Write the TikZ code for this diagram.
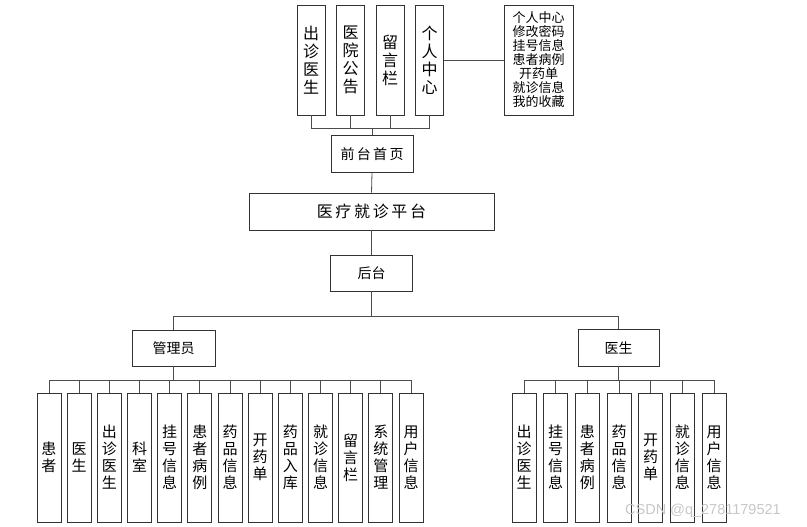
\documentclass[tikz,border=0pt]{standalone}
\usepackage{fontspec}
\newfontfamily\cjk{Noto Sans CJK SC}
\newfontfamily\wmfont{Liberation Sans}

\begin{document}
\begin{tikzpicture}[x=1pt, y=-1pt, every node/.style={font=\cjk\fontsize{14}{16}\selectfont},
	box/.style={draw=black!80, line width=0.8pt, inner sep=0pt, align=center},
	tbox/.style={box, minimum width=28, minimum height=110, font=\cjk\fontsize{16}{18}\selectfont},
	vbox/.style={box, minimum width=24, minimum height=129, font=\cjk\fontsize{15}{17}\selectfont},
	hbox/.style={box, minimum width=82, minimum height=37},
	link/.style={black!70, line width=0.8pt}]
	\useasboundingbox (0,0) rectangle (807,527);
	% front end
	\foreach \s [count=\i] in {出\\诊\\医\\生, 医\\院\\公\\告, 留\\言\\栏, 个\\人\\中\\心}
		\node[tbox] (t\i) at (271.5+39.5*\i,60) {\s};
	\node[box, minimum width=69, minimum height=110, font=\cjk\fontsize{13}{14}\selectfont] (menu) at (538.5,60)
		{个人中心\\修改密码\\挂号信息\\患者病例\\开药单\\就诊信息\\我的收藏};
	\node[hbox] (front) at (372,154) {前\,台\,首\,页};
	\node[box, minimum width=245, minimum height=37, font=\cjk\fontsize{16}{18}\selectfont] (platform) at (371.5,211.5) {医\,疗\,就\,诊\,平\,台};
	\node[hbox, minimum height=36] (back) at (371.5,273) {后台};
	% back end
	\node[hbox, minimum width=83, minimum height=36] (admin) at (173.5,348) {管理员};
	\node[hbox, minimum width=81] (doctor) at (618.5,347.5) {医生};
	\foreach \s [count=\i from 0] in {患\\者, 医\\生, 出\\诊\\医\\生, 科\\室, 挂\\号\\信\\息, 患\\者\\病\\例, 药\\品\\信\\息,
		开\\药\\单, 药\\品\\入\\库, 就\\诊\\信\\息, 留\\言\\栏, 系\\统\\管\\理, 用\\户\\信\\息}
		\node[vbox] (a\i) at (49+30.17*\i,457.5) {\s};
	\foreach \s [count=\i from 0] in {出\\诊\\医\\生, 挂\\号\\信\\息, 患\\者\\病\\例, 药\\品\\信\\息, 开\\药\\单, 就\\诊\\信\\息, 用\\户\\信\\息}
		\node[vbox] (d\i) at (524+31.67*\i,457.5) {\s};
	% connectors
	\draw[link] (front.north) -- ++(0,-7) coordinate (fbus);
	\foreach \i in {1,...,4} \draw[link] (fbus) -| (t\i.south);
	\draw[link] (t4.east) -- (menu.west);
	\draw[link] (front.south) -- (platform.north);
	\draw[link] (platform.south) -- (back.north);
	\draw[link] (back.south) -- ++(0,25) coordinate (bbus);
	\draw[link] (bbus) -| (admin.north);
	\draw[link] (bbus) -| (doctor.north);
	\draw[link] (admin.south) -- ++(0,14) coordinate (abus);
	\foreach \i in {0,...,12} \draw[link] (abus) -| (a\i.north);
	\draw[link] (doctor.south) -- ++(0,14) coordinate (dbus);
	\foreach \i in {0,...,6} \draw[link] (dbus) -| (d\i.north);
	\node[text=black!22, font=\wmfont\fontsize{14.5}{15}\selectfont] (wm) at (703,511) {CSDN @q\_2781179521};
\end{tikzpicture}
\end{document}
